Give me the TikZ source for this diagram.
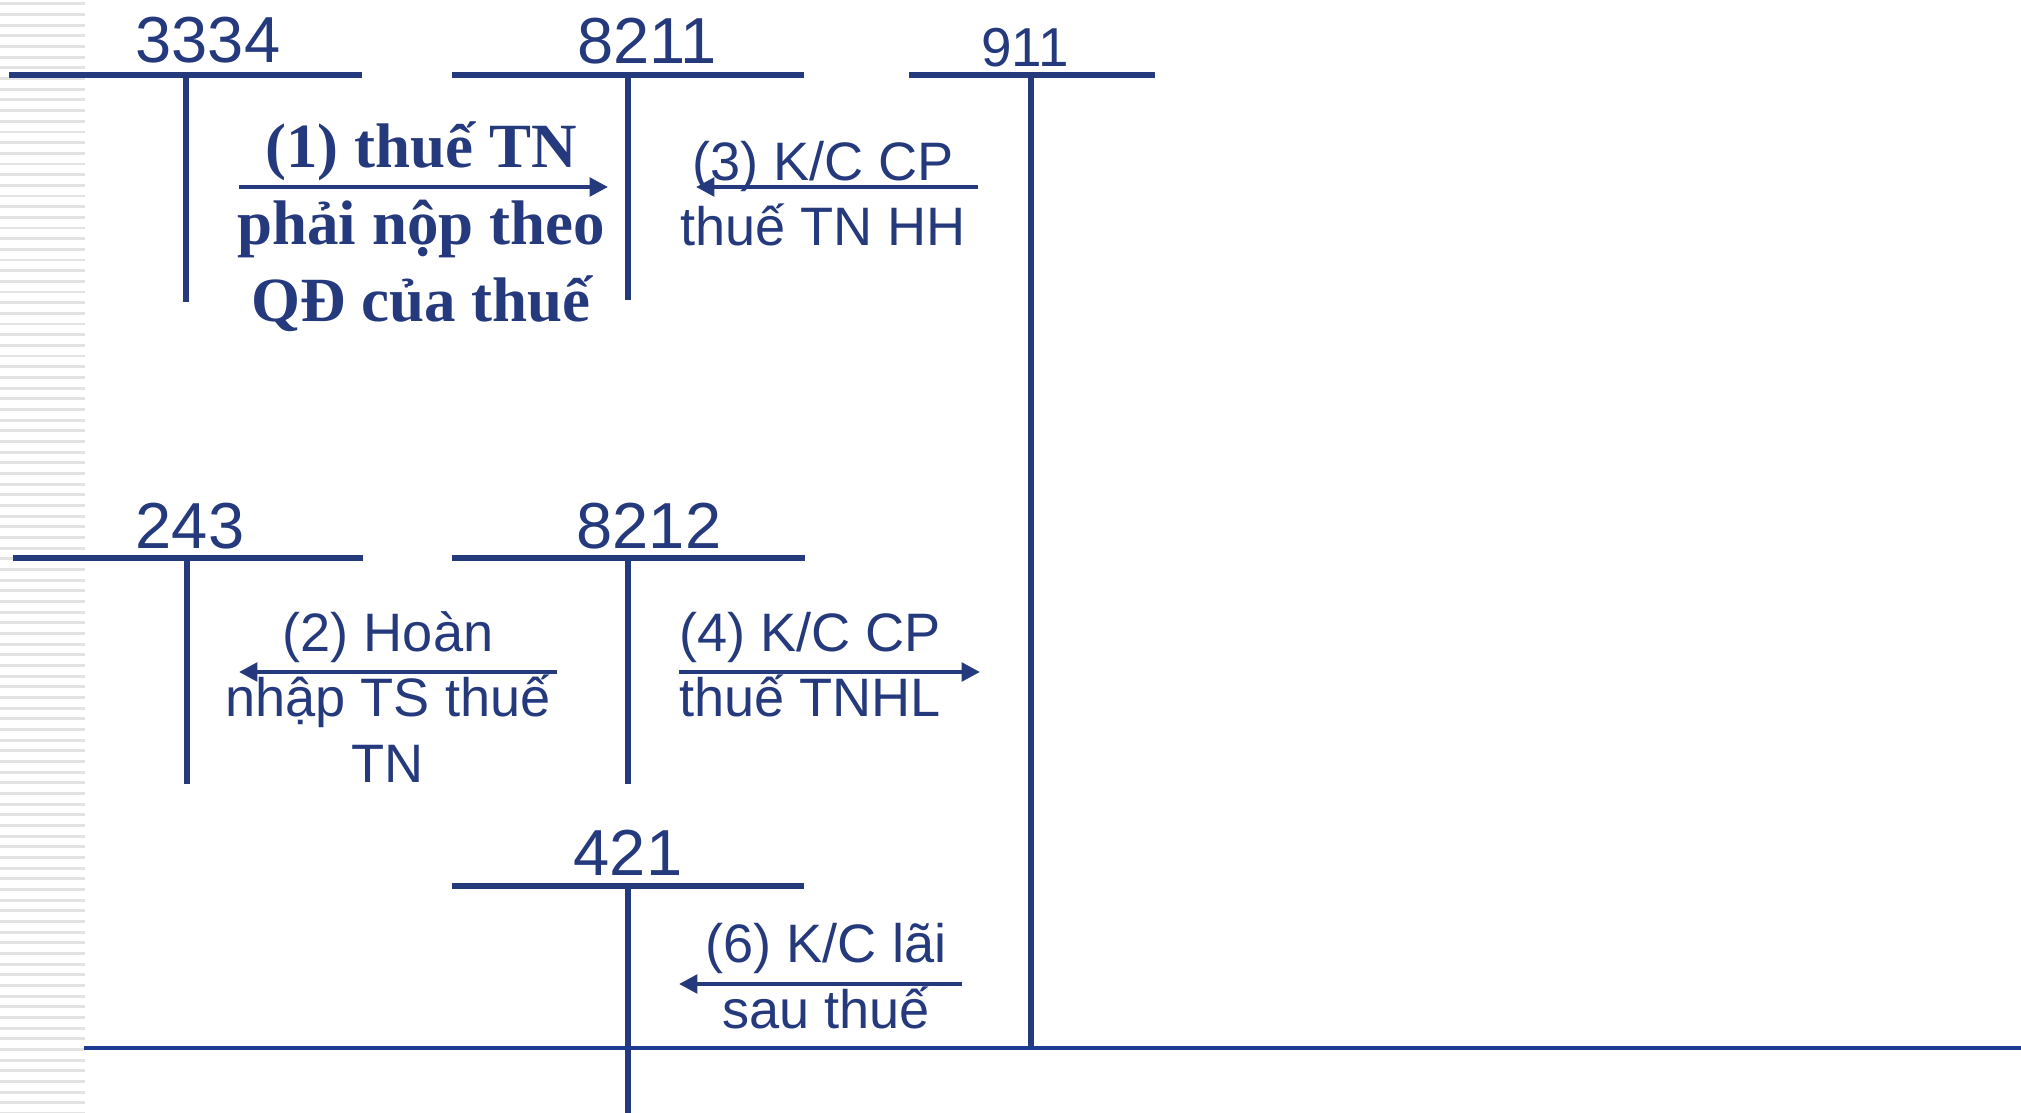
\documentclass[tikz,border=0pt]{standalone}
\usepackage{fontspec}
\setmainfont{Liberation Serif}
\setsansfont{Liberation Sans}
\usetikzlibrary{arrows.meta}
\definecolor{navy}{RGB}{37,57,125}
\definecolor{baseblue}{RGB}{31,58,147}
\tikzset{
  tline/.style={navy, line width=1.7pt},
  flow/.style={navy, line width=1.2pt, -{Triangle[length=5.2pt, width=5.2pt]}},
  acct/.style={navy, font=\sffamily\fontsize{18.5}{22}\selectfont, anchor=base, inner sep=0pt},
  note/.style={navy, font=\sffamily\fontsize{15.4}{18.5}\selectfont, align=center, anchor=base, inner sep=0pt},
  bnote/.style={navy, font=\bfseries\fontsize{17.9}{21.9}\selectfont, align=center, anchor=base, inner sep=0pt},
}

\begin{document}
\begin{tikzpicture}[x=0.01cm, y=-0.01cm]
\useasboundingbox (0,0) rectangle (2021,1113);

% striped margin
\foreach \k in {0,...,104}
  \draw[gray!22, line width=0.85pt] (0,4+10.667*\k) -- (85,4+10.667*\k);

% T-accounts
\foreach \acc/\l/\m/\r/\y/\b in {a3334/9/186/362/75/302, a8211/452/628/804/75/300,
    a911/909/1031/1155/75/1048, a243/13/187/363/558/784,
    a8212/452/628/805/558/784, a421/452/628/804/886/1113}{
  \coordinate (\acc-l) at (\l,\y);
  \coordinate (\acc-r) at (\r,\y);
  \coordinate (\acc-t) at (\m,\y);
  \coordinate (\acc-b) at (\m,\b);
  \draw[tline] (\acc-l) -- (\acc-r);
  \draw[tline] (\acc-t) -- (\acc-b);
}

% account numbers
\node[acct] (n3334) at (208,63) {3334};
\node[acct] (n8211) at (647,64) {8211};
\node[acct, font=\sffamily\fontsize{15.6}{18}\selectfont] (n911) at (1025,67) {911};
\node[acct] (n243) at (190,549) {243};
\node[acct] (n8212) at (649,549) {8212};
\node[acct] (n421) at (628,876) {421};

% closing line
\coordinate (base-l) at (84,1048);
\coordinate (base-r) at (2021,1048);
\draw[baseblue, line width=0.9pt] (base-l) -- (base-r);

% entries
\coordinate (f1s) at (239,187); \coordinate (f1e) at (608,187);
\coordinate (f3s) at (978,187); \coordinate (f3e) at (696,187);
\coordinate (f2s) at (557,672); \coordinate (f2e) at (239,672);
\coordinate (f4s) at (679,672); \coordinate (f4e) at (980,672);
\coordinate (f6s) at (962,984); \coordinate (f6e) at (679,984);
\draw[flow] (f1s) -- (f1e);
\draw[flow] (f3s) -- (f3e);
\draw[flow] (f2s) -- (f2e);
\draw[flow] (f4s) -- (f4e);
\draw[flow] (f6s) -- (f6e);

% base anchor sits on the last line
\node[bnote] (t1) at (421,322) {(1) thuế TN\\phải nộp theo\\QĐ của thuế};
\node[note] (t3) at (823,246) {(3) K/C CP\\thuế TN HH};
\node[note] (t2) at (388,782) {(2) Hoàn\\nhập TS thuế\\TN};
\node[note] (t4) at (810,717) {(4) K/C CP\\thuế TNHL};
\node[note] (t6) at (826,1028) {(6) K/C lãi\\sau thuế};

\end{tikzpicture}
\end{document}
